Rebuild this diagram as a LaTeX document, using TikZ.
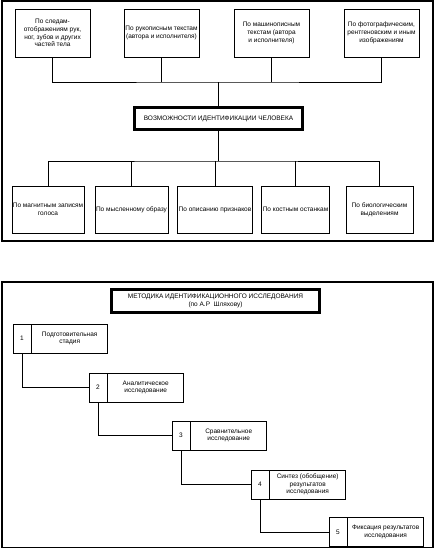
\documentclass[tikz,border=0pt]{standalone}
\usepackage{fontspec}
\setmainfont{Liberation Sans}
\begin{document}
\begin{tikzpicture}[x=1pt,y=-1pt,
  frame/.style={draw, line width=1.4pt},
  box/.style={draw, line width=0.7pt, inner sep=1pt, align=center,
    font=\fontsize{6.5}{7.7}\selectfont},
  topbox/.style={box, minimum width=75pt, minimum height=48pt},
  botbox/.style={box, minimum width=66pt, minimum height=47pt},
  numcell/.style={box, minimum width=18pt, minimum height=29pt},
  txtcell/.style={box, minimum width=76pt, minimum height=29pt, anchor=west},
  headbox/.style={box, line width=1.8pt},
  inner/.style={draw, line width=0.6pt},
  conn/.style={draw, line width=0.6pt}]
\useasboundingbox (0,0) rectangle (435,554);

% ---------- upper panel ----------
\draw[frame] (2,1) rectangle (433,241);

\node[topbox] (a1) at (52.5,33) {По следам-\\отображениям рук,\\ног, зубов и других\\частей тела};
\node[topbox] (a2) at (161.5,33) {По рукописным текстам\\(автора и исполнителя)};
\node[topbox] (a3) at (271.5,33) {По машинописным\\текстам (автора\\и исполнителя)};
\node[topbox] (a4) at (381.5,33) {По фотографическим,\\рентгеновским и иным\\изображениям};

\node[headbox, minimum width=169pt, minimum height=23pt] (c) at (218.5,118.5) {ВОЗМОЖНОСТИ ИДЕНТИФИКАЦИИ ЧЕЛОВЕКА};
\draw[inner] ([shift={(2.6,2.6)}]c.north west) rectangle ([shift={(-2.6,-2.6)}]c.south east);

\node[botbox] (b1) at (48,209.5) {По магнитным записям\\голоса};
\node[botbox, minimum width=65pt] (b2) at (131.5,209.5) {По мысленному образу};
\node[botbox] (b3) at (215,209.5) {По описанию признаков};
\node[botbox, minimum width=65pt] (b4) at (295.5,209.5) {По костным останкам};
\node[botbox, minimum width=67pt] (b5) at (379.5,209.5) {По биологическим\\выделениям};

\coordinate (tb) at (218.5,82);
\draw[conn] (a1.south) |- (tb) -| (a4.south);
\draw[conn] (a2.south) -- (a2.south |- tb);
\draw[conn] (a3.south) -- (a3.south |- tb);
\draw[conn] (c.north) -- (tb);

\coordinate (bb) at (218.5,161);
\draw[conn] (b1.north) |- (bb) -| (b5.north);
\draw[conn] (b2.north) -- (b2.north |- bb);
\draw[conn] (b3.north) -- (b3.north |- bb);
\draw[conn] (b4.north) -- (b4.north |- bb);
\draw[conn] (c.south) -- (bb);

% ---------- lower panel ----------
\draw[frame] (2,282) rectangle (433,547.5);

\node[headbox, minimum width=209pt, minimum height=24pt] (t) at (215.5,301)
  {МЕТОДИКА ИДЕНТИФИКАЦИОННОГО ИССЛЕДОВАНИЯ\\(по А.Р\ \ Шляхову)};
\draw[inner] ([shift={(2.6,2.6)}]t.north west) rectangle ([shift={(-2.6,-2.6)}]t.south east);

\node[numcell] (n1) at (22,338.5) {1};
\node[txtcell] (s1) at (n1.east) {Подготовительная\\стадия};
\node[numcell] (n2) at (98,387.5) {2};
\node[txtcell] (s2) at (n2.east) {Аналитическое\\исследование};
\node[numcell] (n3) at (181,435.5) {3};
\node[txtcell] (s3) at (n3.east) {Сравнительное\\исследование};
\node[numcell] (n4) at (260,484.5) {4};
\node[txtcell] (s4) at (n4.east) {Синтез (обобщение)\\результатов\\исследования};
\node[numcell] (n5) at (338,532) {5};
\node[txtcell] (s5) at (n5.east) {Фиксация результатов\\исследования};

\draw[conn] (n1.south) |- (n2.west);
\draw[conn] (n2.south) |- (n3.west);
\draw[conn] (n3.south) |- (n4.west);
\draw[conn] (n4.south) |- (n5.west);
\end{tikzpicture}
\end{document}
